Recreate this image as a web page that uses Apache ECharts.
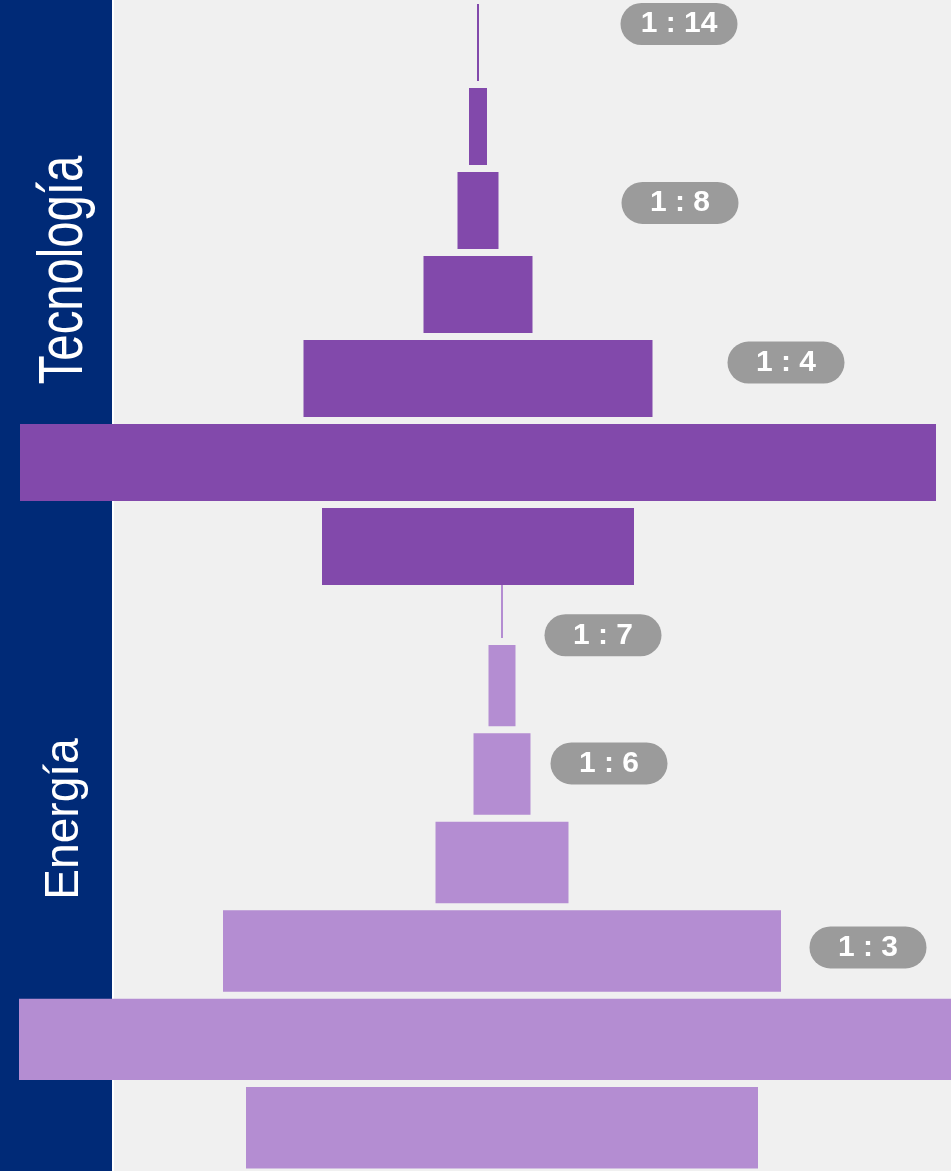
<!DOCTYPE html>
<html>
<head>
<meta charset="utf-8">
<script src="https://cdn.jsdelivr.net/npm/echarts@6/dist/echarts.min.js"></script>
<style>
  html, body { margin: 0; padding: 0; background: #f0f0f0; }
  #chart { width: 951px; height: 1171px; }
</style>
</head>
<body>
<div id="chart"></div>
<script>
// niveles de cada pirámide (de arriba abajo)
var niveles = ['N1', 'N2', 'N3', 'N4', 'N5', 'N6', 'N7'];

// ancho de cada barra
var tecnologia = [2, 18, 41, 109, 349, 916, 312];
var energia = [2, 27, 57, 133, 558, 966, 512];

// etiquetas de relación: texto, posición horizontal, fila
var ratiosTec = ['1 : 14', '1 : 8', '1 : 4'];
var ratiosTecX = [201, 202, 308];
var ratiosTecFila = [0.28, 2.41, 4.31];

var ratiosEne = ['1 : 7', '1 : 6', '1 : 3'];
var ratiosEneX = [101, 107, 366];
var ratiosEneFila = [0.93, 2.38, 4.46];

var colorTec = '#8249ab';
var colorEne = '#b48dd2';

var chart = echarts.init(document.getElementById('chart'));

function base(arr) {
  return arr.map(function (v) { return -v / 2; });
}

function pildoras(textos, xs, filas) {
  return textos.map(function (t, i) {
    return { name: t, value: [xs[i], filas[i]] };
  });
}

// eje horizontal: el centro de cada pirámide queda en 0
function ejeX(g, centro) {
  return {
    type: 'value', gridIndex: g, min: -centro, max: 951 - centro,
    show: false, splitLine: { show: false }
  };
}
function ejeCat(g) {
  return { type: 'category', gridIndex: g, data: niveles, inverse: true, show: false };
}
function ejeFila(g) {
  return { type: 'value', gridIndex: g, min: 0, max: 7, inverse: true, show: false, splitLine: { show: false } };
}

var etiquetaPildora = {
  show: true,
  position: 'inside',
  formatter: '{b}',
  color: '#ffffff',
  opacity: 1,
  fontFamily: 'Liberation Sans, Arial, sans-serif',
  fontWeight: 'bold',
  fontSize: 30,
  width: 117,
  height: 42,
  lineHeight: 42,
  align: 'center',
  verticalAlign: 'middle',
  backgroundColor: '#9b9b9b',
  borderRadius: 21
};

function barras(ejeX, ejeY, pila, valores, color, hueco, z) {
  return [
    {
      type: 'bar', xAxisIndex: ejeX, yAxisIndex: ejeY, stack: pila, stackStrategy: 'all', z: z,
      barCategoryGap: hueco, data: base(valores), itemStyle: { color: 'transparent' },
      silent: true
    },
    {
      type: 'bar', xAxisIndex: ejeX, yAxisIndex: ejeY, stack: pila, stackStrategy: 'all', z: z,
      barCategoryGap: hueco, data: valores, itemStyle: { color: color }
    }
  ];
}

var option = {
  backgroundColor: '#f0f0f0',
  animation: false,
  graphic: [
    { type: 'rect', z: 0, shape: { x: 0, y: 0, width: 112, height: 1171 }, style: { fill: '#002a77' } },
    { type: 'rect', z: 0, shape: { x: 112, y: 0, width: 2, height: 1171 }, style: { fill: '#ffffff' } },
    {
      type: 'text', z: 1, x: 65, y: 270, rotation: Math.PI / 2, scaleX: 0.75,
      style: {
        text: 'Tecnología', fill: '#ffffff', fontSize: 63,
        fontFamily: 'Liberation Sans, Arial, sans-serif',
        align: 'center', verticalAlign: 'middle'
      }
    },
    {
      type: 'text', z: 1, x: 65, y: 819, rotation: Math.PI / 2, scaleX: 0.96,
      style: {
        text: 'Energía', fill: '#ffffff', fontSize: 48,
        fontFamily: 'Liberation Sans, Arial, sans-serif',
        align: 'center', verticalAlign: 'middle'
      }
    }
  ],
  grid: [
    { left: 0, right: 0, top: 0.5, height: 588, outerBoundsMode: 'none' },
    { left: 0, right: 0, top: 553, height: 619, outerBoundsMode: 'none' }
  ],
  xAxis: [ejeX(0, 478), ejeX(1, 502)],
  yAxis: [ejeCat(0), ejeFila(0), ejeCat(1), ejeFila(1)],
  series: [].concat(
    barras(0, 0, 'tec', tecnologia, colorTec, '8.3%', 4),
    barras(1, 2, 'ene', energia, colorEne, '7.9%', 3),
    [
      {
        type: 'scatter', xAxisIndex: 0, yAxisIndex: 1, z: 6, symbolSize: 0,
        itemStyle: { opacity: 1 },
        data: pildoras(ratiosTec, ratiosTecX, ratiosTecFila), label: etiquetaPildora
      },
      {
        type: 'scatter', xAxisIndex: 1, yAxisIndex: 3, z: 6, symbolSize: 0,
        itemStyle: { opacity: 1 },
        data: pildoras(ratiosEne, ratiosEneX, ratiosEneFila), label: etiquetaPildora
      }
    ]
  )
};

chart.setOption(option);
</script>
</body>
</html>
